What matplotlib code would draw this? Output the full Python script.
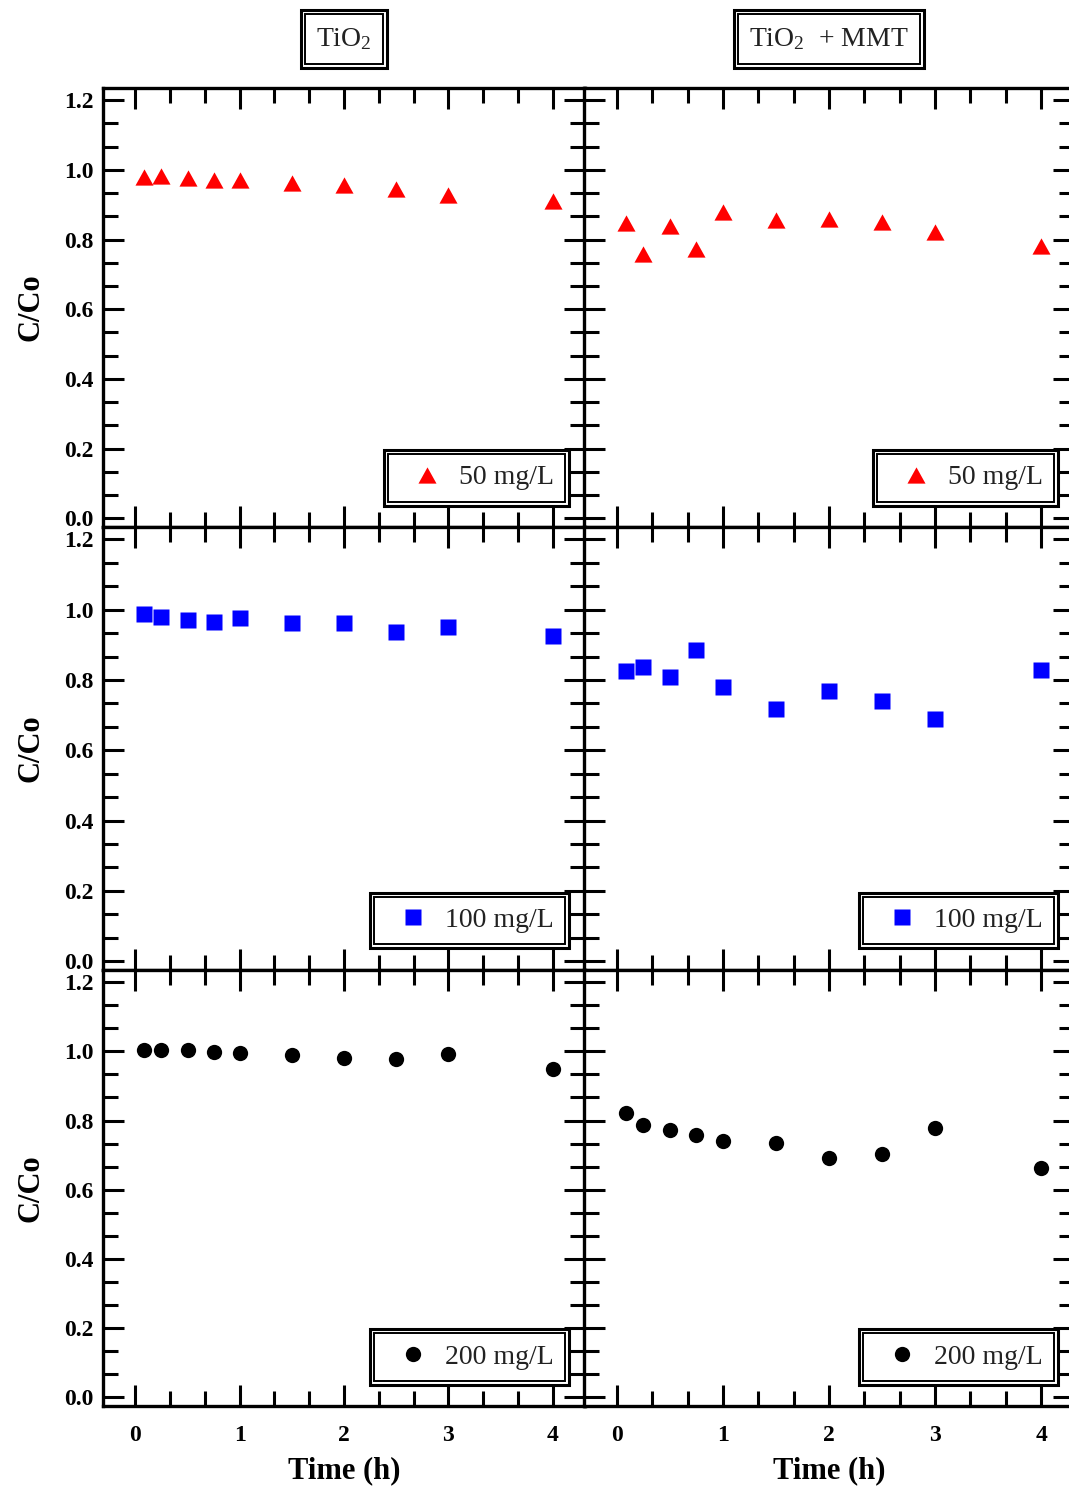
import matplotlib
matplotlib.use("Agg")
import matplotlib.pyplot as plt
from matplotlib.patches import Rectangle
from matplotlib.ticker import MultipleLocator, FormatStrFormatter

plt.rcParams["font.family"] = "Liberation Serif"
plt.rcParams["mathtext.fontset"] = "custom"
plt.rcParams["mathtext.rm"] = "Liberation Serif"
plt.rcParams["mathtext.it"] = "Liberation Serif:italic"

# sampling times (h)
time_h = [0.083, 0.25, 0.5, 0.75, 1, 1.5, 2, 2.5, 3, 4]

# C/Co, TiO2 alone
tio2_50 = [0.980, 0.983, 0.977, 0.972, 0.972, 0.961, 0.957, 0.945, 0.929, 0.911]
tio2_100 = [0.987, 0.980, 0.970, 0.966, 0.975, 0.963, 0.963, 0.935, 0.951, 0.926]
tio2_200 = [1.003, 1.003, 1.003, 0.997, 0.994, 0.988, 0.980, 0.977, 0.991, 0.948]

# C/Co, TiO2 + MMT
mmt_50 = [0.848, 0.759, 0.840, 0.774, 0.879, 0.856, 0.860, 0.850, 0.821, 0.781]
mmt_100 = [0.825, 0.836, 0.807, 0.884, 0.779, 0.718, 0.768, 0.740, 0.690, 0.829]
mmt_200 = [0.823, 0.787, 0.773, 0.758, 0.742, 0.734, 0.693, 0.704, 0.777, 0.662]

doses = ["50 mg/L", "100 mg/L", "200 mg/L"]
col_titles = ["TiO$_2$", "TiO$_2$  + MMT"]

tri = [(-1, -0.9), (1, -0.9), (0, 0.9)]
styles = [dict(marker=tri, color="red", ms=13),
          dict(marker="s", color="blue", ms=11.5),
          dict(marker="o", color="black", ms=11)]

W, H = 1069, 1490
fig = plt.figure(figsize=(W / 100, H / 100), dpi=100)


def px_rect(x0, y0, x1, y1):
    return [x0 / W, 1 - y1 / H, (x1 - x0) / W, (y1 - y0) / H]


col_x = [(103, 585), (584, 1074)]
row_y = [(88, 527), (527, 970), (970, 1406)]
data = [[tio2_50, mmt_50], [tio2_100, mmt_100], [tio2_200, mmt_200]]

legends = []
for r in range(3):
    for c in range(2):
        ax = fig.add_axes(px_rect(col_x[c][0], row_y[r][0],
                                  col_x[c][1], row_y[r][1]))
        ax.plot(time_h, data[r][c], ls="none", mec="none",
                label=doses[r], **styles[r])
        ax.set_xlim(-0.31, 4.31)
        ax.set_ylim(-0.025, 1.235)
        ax.xaxis.set_major_locator(MultipleLocator(1))
        ax.xaxis.set_minor_locator(MultipleLocator(1 / 3))
        ax.yaxis.set_major_locator(MultipleLocator(0.2))
        ax.yaxis.set_minor_locator(MultipleLocator(0.2 / 3))
        ax.xaxis.set_major_formatter(FormatStrFormatter("%d"))
        ax.yaxis.set_major_formatter(FormatStrFormatter("%.1f"))
        ax.tick_params(which="both", direction="in", top=True, right=True,
                       width=2.2, labelleft=(c == 0), labelbottom=(r == 2))
        ax.tick_params(which="major", length=15)
        ax.tick_params(which="minor", length=11)
        ax.tick_params(axis="y", pad=7)
        ax.tick_params(axis="x", pad=14)
        for lab in ax.get_xticklabels() + ax.get_yticklabels():
            lab.set_fontsize(17)
            lab.set_fontweight("bold")
        for sp in ax.spines.values():
            sp.set_linewidth(2.4)
        if c == 0:
            ax.set_ylabel("C/Co", fontsize=22, fontweight="bold")
            ax.yaxis.set_label_coords(-0.12, 0.5)
        if r == 2:
            ax.set_xlabel("Time (h)", fontsize=22, fontweight="bold")
            ax.xaxis.set_label_coords(0.5, -0.115)
        leg = ax.legend(loc="lower right", bbox_to_anchor=(0.9585, 0.058),
                        borderaxespad=0, frameon=True, fancybox=False,
                        framealpha=1, edgecolor="black", prop={"size": 20},
                        handlelength=2.0, handletextpad=0.15, borderpad=0.4,
                        labelcolor="#222222")
        leg.get_frame().set_linewidth(1.4)
        legends.append(leg)

titles = []
for (x0, x1), title in zip(col_x, col_titles):
    t = fig.text((x0 + x1) / 2 / W, 1 - 39 / H, title, ha="center",
                 va="center", fontsize=20, color="#222222")
    titles.append(t)

fig.canvas.draw()


def double_frame(x0, y0, x1, y1, inner=True):
    # thin inner line plus a thicker outer line 4 px further out
    if inner:
        fig.add_artist(Rectangle((x0 / W, y0 / H), (x1 - x0) / W,
                                 (y1 - y0) / H, transform=fig.transFigure,
                                 fill=False, lw=1.4, ec="black", zorder=10))
    fig.add_artist(Rectangle(((x0 - 4) / W, (y0 - 4) / H),
                             (x1 - x0 + 8) / W, (y1 - y0 + 8) / H,
                             transform=fig.transFigure, fill=False, lw=2.2,
                             ec="black", zorder=10))


for leg in legends:
    bb = leg.get_frame().get_window_extent()
    double_frame(bb.x0, bb.y0, bb.x1, bb.y1, inner=False)

for t in titles:
    bb = t.get_window_extent()
    cy = (bb.y0 + bb.y1) / 2
    double_frame(bb.x0 - 11, cy - 25, bb.x1 + 11, cy + 25)

fig.savefig("out.png", dpi=100)
